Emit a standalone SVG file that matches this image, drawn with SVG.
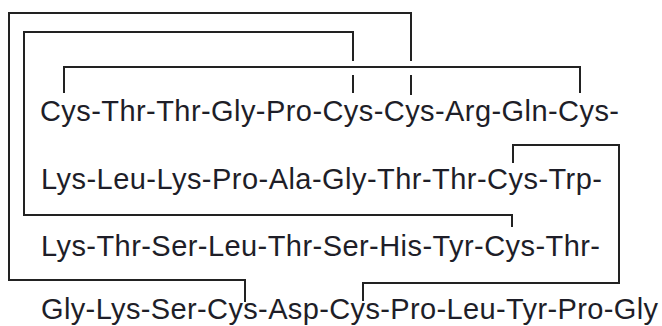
<svg xmlns="http://www.w3.org/2000/svg" width="662" height="326" viewBox="0 0 662 326">
<style>
.seq{font-family:"Liberation Sans",Arial,sans-serif;font-size:29px;fill:#1e1e28}
.bond{fill:none;stroke:#222;stroke-width:2;stroke-linecap:butt;stroke-linejoin:miter}
</style>
<rect width="662" height="326" fill="#fff"/>
<g id="connectors">
<path class="bond" d="M64,93 V67 H580 V93"/>
<path class="bond" d="M353,93 V75 M353,61 V32 H24 V215 H512 V227"/>
<path class="bond" d="M411,95 V75 M411,61 V13 H9 V280 H245 V302"/>
<path class="bond" d="M513,163 V145 H619 V283 H363 V301"/>
</g>
<g id="row1"><text class="seq" x="40" y="121" textLength="579">Cys-Thr-Thr-Gly-Pro-Cys-Cys-Arg-Gln-Cys-</text></g>
<g id="row2"><text class="seq" x="41" y="189" textLength="561">Lys-Leu-Lys-Pro-Ala-Gly-Thr-Thr-Cys-Trp-</text></g>
<g id="row3"><text class="seq" x="41" y="256" textLength="559">Lys-Thr-Ser-Leu-Thr-Ser-His-Tyr-Cys-Thr-</text></g>
<g id="row4"><text class="seq" x="41" y="319" textLength="617">Gly-Lys-Ser-Cys-Asp-Cys-Pro-Leu-Tyr-Pro-Gly</text></g>
</svg>
